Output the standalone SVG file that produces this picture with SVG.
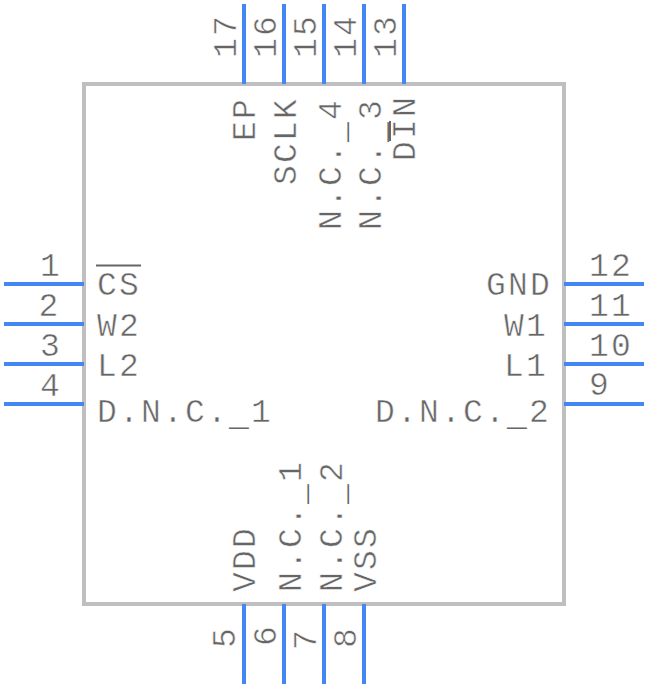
<svg xmlns="http://www.w3.org/2000/svg" width="648" height="688" viewBox="0 0 648 688">
<style>
.p{stroke:#4287f5;stroke-width:4;fill:none}
text{font-family:"Liberation Mono",monospace;fill:#666;stroke:#fff;stroke-width:.5px;font-size:33px;letter-spacing:2.2px}
.u{stroke:none}
.m{text-anchor:middle}
.r{text-anchor:end}
.o{stroke:#666;stroke-width:2;fill:none}
</style>
<rect width="648" height="688" fill="#fff"/>
<g id="body"><rect x="84" y="84" width="480" height="520" fill="none" stroke="#bfbfbf" stroke-width="4"/></g>
<g id="connectors">
<path class="p" d="M4 284H84M4 324H84M4 364H84M4 404H84M564 284H644M564 324H644M564 364H644M564 404H644M244 4V84M284 4V84M324 4V84M364 4V84M404 4V84M244 604V684M284 604V684M324 604V684M364 604V684"/>
</g>
<g id="pin1"><text class="m" x="51" y="276">1</text><text x="97" y="295">CS</text><path class="o" d="M96 265.500H141"/></g>
<g id="pin2"><text class="m" x="49.500" y="316">2</text><text x="97" y="336">W2</text></g>
<g id="pin3"><text class="m" x="51" y="355.500">3</text><text x="97" y="376">L2</text></g>
<g id="pin4"><text class="m" x="51" y="396">4</text><text x="97" y="421.500">D.N.C.<tspan class="u" dy="3.500">_</tspan><tspan dy="-3.500">1</tspan></text></g>
<g id="pin5"><text class="m" transform="translate(235 637) rotate(-90)">5</text><text transform="translate(255 592) rotate(-90)">VDD</text></g>
<g id="pin6"><text class="m" transform="translate(276 635) rotate(-90)">6</text><text transform="translate(301 592) rotate(-90)">N.C.<tspan class="u" dy="3.500">_</tspan><tspan dy="-3.500">1</tspan></text></g>
<g id="pin7"><text class="m" transform="translate(316 639) rotate(-90)">7</text><text transform="translate(341.500 592) rotate(-90)">N.C.<tspan class="u" dy="3.500">_</tspan><tspan dy="-3.500">2</tspan></text></g>
<g id="pin8"><text class="m" transform="translate(356 637) rotate(-90)">8</text><text transform="translate(376 592) rotate(-90)">VSS</text></g>
<g id="pin9"><text class="m" x="600" y="395">9</text><text class="r" x="551" y="421.500">D.N.C.<tspan class="u" dy="3.500">_</tspan><tspan dy="-3.500">2</tspan></text></g>
<g id="pin10"><text class="m" x="611" y="355.500">10</text><text class="r" x="548" y="376">L1</text></g>
<g id="pin11"><text class="m" x="611" y="316">11</text><text class="r" x="548" y="336">W1</text></g>
<g id="pin12"><text class="m" x="611" y="276">12</text><text class="r" x="552" y="295">GND</text></g>
<g id="pin13"><text class="m" transform="translate(396 36) rotate(-90)">13</text><text transform="translate(415 161) rotate(-90)">DIN</text><path class="o" d="M390 121V141"/></g>
<g id="pin14"><text class="m" transform="translate(356 36) rotate(-90)">14</text><text transform="translate(381 230) rotate(-90)">N.C.<tspan class="u" dy="3.500">_</tspan><tspan dy="-3.500">3</tspan></text></g>
<g id="pin15"><text class="m" transform="translate(316 36) rotate(-90)">15</text><text transform="translate(341 230) rotate(-90)">N.C.<tspan class="u" dy="3.500">_</tspan><tspan dy="-3.500">4</tspan></text></g>
<g id="pin16"><text class="m" transform="translate(276 36) rotate(-90)">16</text><text transform="translate(296 185) rotate(-90)">SCLK</text></g>
<g id="pin17"><text class="m" transform="translate(236 36) rotate(-90)">17</text><text transform="translate(255 141) rotate(-90)">EP</text></g>
</svg>
